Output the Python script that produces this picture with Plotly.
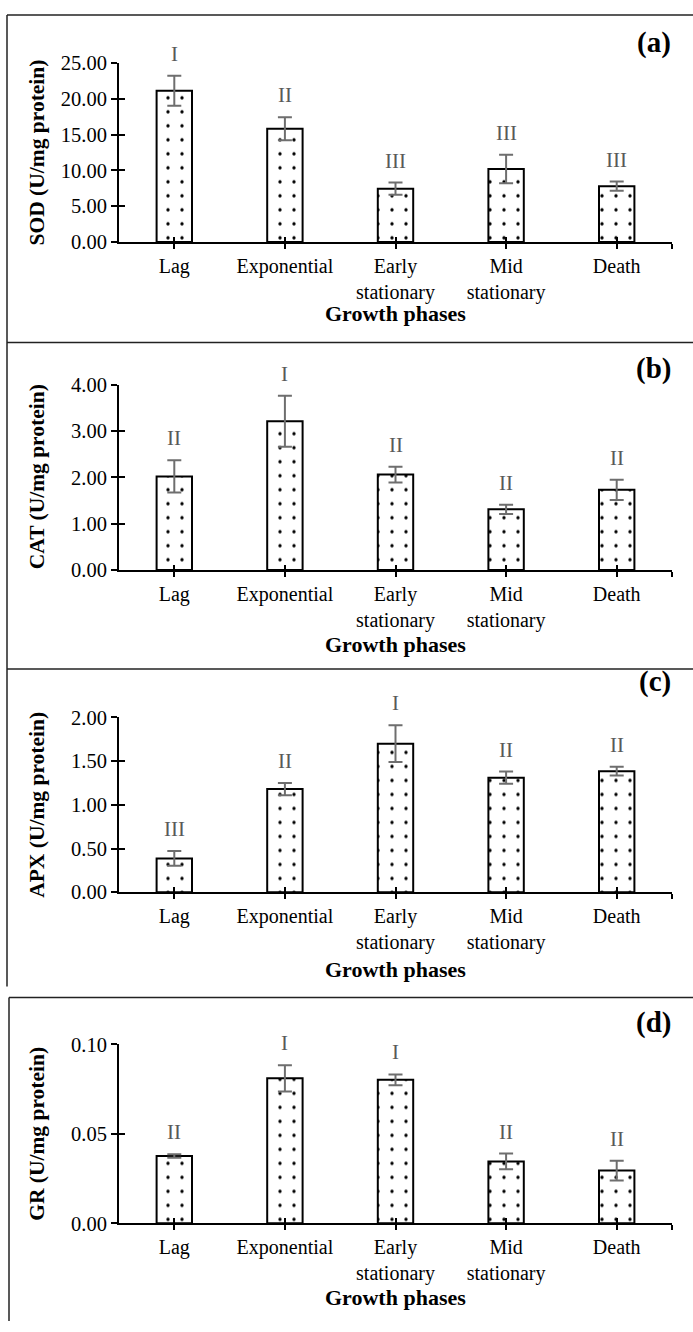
import plotly.graph_objects as go

# ---------------- data ----------------
phases = ["Lag", "Exponential", "Early<br>stationary", "Mid<br>stationary", "Death"]

sod_values = [21.1, 15.8, 7.45, 10.2, 7.8]
sod_errors = [2.1, 1.6, 0.85, 2.0, 0.65]
sod_letters = ["I", "II", "III", "III", "III"]

cat_values = [2.02, 3.21, 2.06, 1.31, 1.73]
cat_errors = [0.35, 0.55, 0.17, 0.10, 0.22]
cat_letters = ["II", "I", "II", "II", "II"]

apx_values = [0.387, 1.18, 1.70, 1.31, 1.385]
apx_errors = [0.085, 0.07, 0.21, 0.07, 0.05]
apx_letters = ["III", "II", "I", "II", "II"]

gr_values = [0.0376, 0.081, 0.0802, 0.0346, 0.0295]
gr_errors = [0.001, 0.0073, 0.003, 0.0044, 0.0055]
gr_letters = ["II", "I", "I", "II", "II"]

y_titles = ["SOD (U/mg protein)", "CAT (U/mg protein)", "APX (U/mg protein)", "GR (U/mg protein)"]
panel_tags = ["(a)", "(b)", "(c)", "(d)"]
y_tops = [25, 4, 2, 0.1]
y_steps = [5, 1, 0.5, 0.05]
x_title = "Growth phases"

# ---------------- layout geometry (pixels) ----------------
W, H = 693, 1332
def px(x):
    return x / W
def py(y):
    return 1 - y / H

x_left, x_right = 119, 672
# (y pixel of value 0, y pixel of top value)
panel_y = [(235, 52.7), (568.3, 380), (896, 718.3), (1232.7, 1050.7)]
xtitle_y = [308, 644, 975, 1308]
tag_y = [32, 364, 682, 1028]

serif = "Liberation Serif, Times New Roman, serif"
letter_color = "#595959"
err_color = "#6e6e6e"

data_sets = [
    (sod_values, sod_errors, sod_letters),
    (cat_values, cat_errors, cat_letters),
    (apx_values, apx_errors, apx_letters),
    (gr_values, gr_errors, gr_letters),
]

fig = go.Figure()
positions = list(range(len(phases)))
annotations = []
layout_axes = {}

for k, (vals, errs, letters) in enumerate(data_sets):
    n = k + 1
    xs = "" if n == 1 else str(n)
    xo = str(n + 4)
    fig.add_trace(go.Bar(
        x=positions, y=vals,
        xaxis="x" + xs, yaxis="y" + xs,
        width=0.32,
        marker=dict(color="white", line=dict(color="black", width=2),
                    pattern=dict(shape=".", fgcolor="black", bgcolor="white",
                                 fgopacity=1, size=14, solidity=0.045)),
        error_y=dict(type="data", array=errs, visible=True, color=err_color,
                     thickness=2, width=7),
        showlegend=False, hoverinfo="skip",
    ))
    # overlay axes carrying the inner half of the crossing tick marks
    fig.add_trace(go.Scatter(x=[None], y=[None], xaxis="x" + xo, yaxis="y" + xo,
                             showlegend=False, hoverinfo="skip"))

    y0, y1 = panel_y[k]
    ydom = [py(y0), py(y1)]
    xdom = [px(x_left), px(x_right)]
    ntick = int(round(y_tops[k] / y_steps[k]))
    yticks = [round(i * y_steps[k], 4) for i in range(ntick + 1)]
    xticks = positions + [len(phases) - 0.5]
    xtext = phases + [""]

    layout_axes["xaxis" + xs] = dict(
        domain=xdom, range=[-0.5, len(phases) - 0.5], anchor="y" + xs,
        showline=True, linecolor="black", linewidth=2,
        ticks="outside", ticklen=5, tickwidth=2, tickcolor="black",
        tickmode="array", tickvals=xticks, ticktext=xtext,
        tickfont=dict(family=serif, size=20, color="black"),
        showgrid=False, zeroline=False, fixedrange=True,
    )
    layout_axes["yaxis" + xs] = dict(
        domain=ydom, range=[0, y_tops[k]], anchor="x" + xs,
        showline=True, linecolor="black", linewidth=2,
        ticks="outside", ticklen=6, tickwidth=2, tickcolor="black",
        tickmode="array", tickvals=yticks, tickformat=".2f",
        tickfont=dict(family=serif, size=20.5, color="black"),
        showgrid=False, zeroline=False, fixedrange=True,
    )
    layout_axes["xaxis" + xo] = dict(
        domain=xdom, range=[-0.5, len(phases) - 0.5], anchor="y" + xs,
        overlaying="x" + xs, showline=False,
        ticks="inside", ticklen=5, tickwidth=2, tickcolor="black",
        tickmode="array", tickvals=xticks, showticklabels=False,
        showgrid=False, zeroline=False, fixedrange=True,
    )
    layout_axes["yaxis" + xo] = dict(
        domain=ydom, range=[0, y_tops[k]], anchor="x" + xs,
        overlaying="y" + xs, showline=False,
        ticks="inside", ticklen=6, tickwidth=2, tickcolor="black",
        tickmode="array", tickvals=yticks, showticklabels=False,
        showgrid=False, zeroline=False, fixedrange=True,
    )

    # significance letters above error bars
    for i, (v, e, t) in enumerate(zip(vals, errs, letters)):
        annotations.append(dict(
            x=i, y=v + e, xref="x" + xs, yref="y" + xs,
            text=t, showarrow=False, yanchor="bottom", yshift=8,
            font=dict(family=serif, size=21, color=letter_color),
        ))
    # y title
    annotations.append(dict(
        x=px(37), y=(ydom[0] + ydom[1]) / 2, xref="paper", yref="paper",
        text="<b>" + y_titles[k] + "</b>", textangle=-90, showarrow=False,
        xanchor="center", yanchor="middle",
        font=dict(family=serif, size=21.5, color="black"),
    ))
    # x title
    annotations.append(dict(
        x=px((x_left + x_right) / 2), y=py(xtitle_y[k]), xref="paper", yref="paper",
        text="<b>" + x_title + "</b>", showarrow=False,
        xanchor="center", yanchor="middle",
        font=dict(family=serif, size=22, color="black"),
    ))
    # panel tag
    annotations.append(dict(
        x=px(673), y=py(tag_y[k]), xref="paper", yref="paper",
        text="<b>" + panel_tags[k] + "</b>", showarrow=False,
        xanchor="right", yanchor="middle",
        font=dict(family=serif, size=29, color="black"),
    ))

border = dict(color="#222222", width=1.5)
shapes = [
    dict(type="line", xref="paper", yref="paper", x0=px(7), x1=1, y0=py(4), y1=py(4), line=border),
    dict(type="line", xref="paper", yref="paper", x0=px(7), x1=1, y0=py(337), y1=py(337), line=border),
    dict(type="line", xref="paper", yref="paper", x0=px(7), x1=1, y0=py(669), y1=py(669), line=border),
    dict(type="line", xref="paper", yref="paper", x0=px(7), x1=px(7), y0=py(4), y1=py(992), line=border),
    dict(type="line", xref="paper", yref="paper", x0=px(9), x1=1, y0=py(1003), y1=py(1003), line=border),
    dict(type="line", xref="paper", yref="paper", x0=px(9), x1=px(9), y0=py(1003), y1=0, line=border),
]

fig.update_layout(
    width=W, height=H,
    margin=dict(l=0, r=0, t=0, b=0),
    paper_bgcolor="white", plot_bgcolor="white",
    annotations=annotations, shapes=shapes,
    showlegend=False,
    **layout_axes,
)

fig.write_html(
    "out.html",
    config={"displayModeBar": False},
    post_script="document.body.style.margin='0';document.body.style.padding='0';"
                "document.documentElement.style.overflow='hidden';",
)
